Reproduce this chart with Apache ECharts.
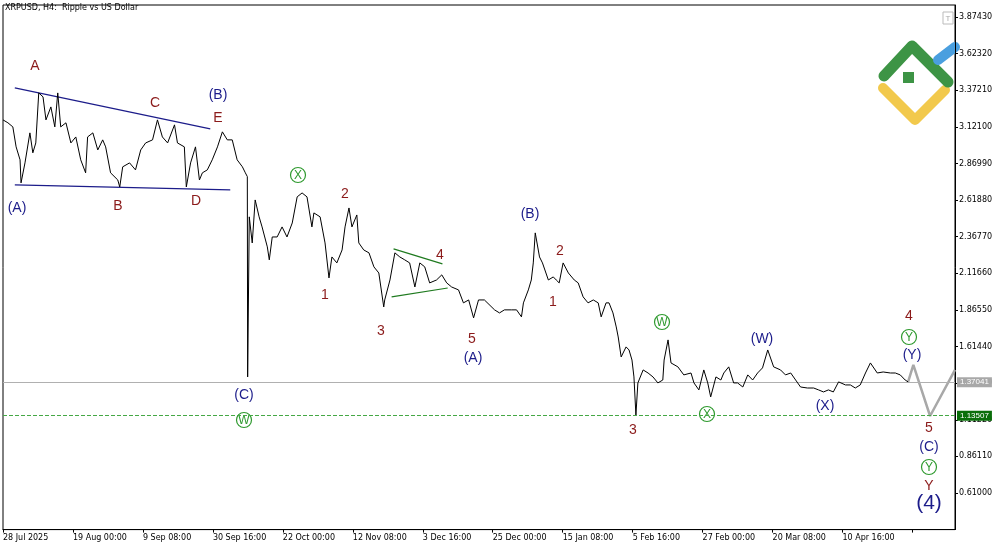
<!DOCTYPE html>
<html><head><meta charset="utf-8">
<script src="https://cdn.jsdelivr.net/npm/echarts@6/dist/echarts.min.js"></script>
<style>html,body{margin:0;padding:0;background:#fff}#c{width:1000px;height:545px}</style>
</head><body><div id="c"></div>
<script>
// days since 28 Jul 2025
const days = [0,1.5,3.0,4.0,5.2,5.5,6.7,8.2,9.1,10.0,10.9,12.2,13.1,14.6,15.8,16.7,17.6,19.2,20.7,22.2,23.7,25.2,25.8,27.4,28.9,30.4,31.3,32.8,35.0,35.6,36.5,38.6,40.4,42.0,43.5,45.6,47.1,48.6,50.2,52.3,53.2,55.3,55.9,57.2,58.7,59.9,60.8,62.3,63.8,65.4,66.9,68.4,69.9,71.4,73.0,73.9,74.5,74.6,75.1,76.0,76.9,78.1,79.0,80.6,81.2,82.1,83.6,85.1,86.6,88.2,89.7,91.2,92.7,94.2,94.8,96.7,98.2,99.4,100.3,101.8,103.4,104.3,105.5,106.4,107.9,108.5,110.0,111.6,113.1,114.6,116.1,116.4,118.0,119.5,121.0,122.5,124.0,125.6,127.1,128.6,130.1,132.2,133.8,135.3,136.8,138.9,140.4,142.0,143.5,145.0,146.8,149.9,151.4,152.9,155.0,156.6,158.1,158.7,160.2,161.1,161.7,162.3,163.6,164.5,166.3,167.8,168.7,169.6,170.8,172.4,174.2,175.4,176.9,178.4,180.0,181.5,182.4,183.9,184.8,186.0,187.0,187.6,188.5,190.0,190.9,191.8,192.4,193.0,193.6,195.2,196.7,198.2,199.7,201.2,201.6,202.8,203.7,205.8,207.6,209.8,210.7,212.2,213.7,214.9,215.8,217.4,218.9,219.8,221.3,222.8,224.0,225.6,227.1,228.6,230.1,231.6,233.2,235.0,237.1,238.6,240.2,241.7,243.2,245.3,247.2,248.7,250.2,251.7,253.2,254.8,256.9,258.4,259.9,261.4,263.0,264.5,266.6,268.4,270.6,272.1,273.6,275.1,276.0];
const prices = [3.169,3.149,3.121,2.984,2.895,2.737,2.874,3.080,2.943,3.011,3.354,3.327,3.169,3.258,3.121,3.354,3.121,3.149,3.011,3.052,2.895,2.806,3.052,3.080,2.963,3.032,2.984,2.806,2.757,2.709,2.847,2.874,2.826,2.963,3.011,3.032,3.169,3.052,3.011,3.135,3.011,2.984,2.709,2.874,2.984,2.757,2.806,2.826,2.895,2.984,3.087,3.032,3.032,2.895,2.847,2.806,2.780,1.406,2.504,2.325,2.620,2.504,2.435,2.298,2.209,2.366,2.366,2.435,2.366,2.462,2.641,2.668,2.641,2.435,2.531,2.504,2.325,2.085,2.229,2.188,2.277,2.435,2.565,2.435,2.517,2.325,2.277,2.257,2.161,2.119,1.886,1.934,2.071,2.257,2.229,2.209,2.188,2.023,2.188,2.161,2.051,2.071,2.106,2.051,2.023,2.003,1.914,1.934,1.811,1.934,1.934,1.866,1.845,1.866,1.866,1.866,1.818,1.914,2.003,2.071,2.188,2.394,2.229,2.188,2.071,2.092,2.071,2.051,2.188,2.119,2.071,2.051,1.955,1.914,1.934,1.914,1.818,1.914,1.914,1.845,1.749,1.680,1.543,1.612,1.591,1.522,1.406,1.145,1.365,1.454,1.433,1.406,1.365,1.385,1.522,1.660,1.502,1.475,1.420,1.433,1.365,1.317,1.454,1.365,1.269,1.406,1.385,1.433,1.475,1.365,1.365,1.337,1.420,1.385,1.433,1.468,1.591,1.475,1.454,1.420,1.433,1.385,1.337,1.330,1.330,1.317,1.303,1.317,1.303,1.372,1.351,1.351,1.330,1.351,1.433,1.502,1.433,1.440,1.433,1.433,1.420,1.385,1.372,1.372];
const projDays = [276.0,277.6,282.7,290.3];
const projPrices = [1.372,1.488,1.138,1.454];
const tickLabels = ['28 Jul 2025','19 Aug 00:00','9 Sep 08:00','30 Sep 16:00','22 Oct 00:00','12 Nov 08:00','3 Dec 16:00','25 Dec 00:00','15 Jan 08:00','5 Feb 16:00','27 Feb 00:00','20 Mar 08:00','10 Apr 16:00'];
const currentPrice = 1.37041, targetPrice = 1.13507;
const upperLine = [[3.6,3.389],[63.2,3.107]];
const lowerLine = [[3.6,2.723],[69.3,2.689]];
const triUpper = [[119.1,2.284],[134.0,2.181]];
const triLower = [[118.5,1.955],[135.6,2.016]];

const RED='#8b1a1a', NAVY='#1c1c8a', GRN='#2f9a2f';
const labels = [
 ['A',35,66,RED],['C',155,103,RED],['(B)',218,95,NAVY],['E',218,118,RED],['(A)',17,208,NAVY],['B',118,206,RED],['D',196,201,RED],
 ['2',345,194,RED],['1',325,295,RED],['3',381,331,RED],['4',440,255,RED],['5',472,339,RED],['(A)',473,358,NAVY],
 ['(B)',530,214,NAVY],['2',560,251,RED],['1',553,302,RED],['(C)',244,395,NAVY],['3',633,430,RED],
 ['(W)',762,339,NAVY],['(X)',825,406,NAVY],['4',909,316,RED],['(Y)',912,355,NAVY],['5',929,428,RED],['(C)',929,447,NAVY],['Y',929,486,RED]
];
const circles = [['X',298,175],['W',244,420],['W',662,322],['X',707,414],['Y',909,337],['Y',929,467]];
const g = [];
labels.forEach(l=>g.push({type:'text',x:l[1],y:l[2],style:{text:l[0],fill:l[3],font:'14px "Liberation Sans", Arial',textAlign:'center',textVerticalAlign:'middle'}}));
circles.forEach(c=>{g.push({type:'circle',shape:{cx:c[1],cy:c[2],r:7.5},style:{fill:'#fff',stroke:GRN,lineWidth:1.2}});
 g.push({type:'text',x:c[1],y:c[2]+0.5,style:{text:c[0],fill:GRN,font:'12px "Liberation Sans", Arial',textAlign:'center',textVerticalAlign:'middle'}});});
g.push({type:'text',x:929,y:503,style:{text:'(4)',fill:NAVY,font:'21px "Liberation Sans", Arial',textAlign:'center',textVerticalAlign:'middle'}});
g.push({type:'text',x:5,y:8,style:{text:'XRPUSD, H4:  Ripple vs US Dollar',fill:'#000',font:'8px "DejaVu Sans", Arial',textVerticalAlign:'middle'}});
g.push({type:'rect',shape:{x:943,y:12,width:10,height:12},style:{fill:'#fff',stroke:'#bbb'}});
g.push({type:'text',x:948,y:18.5,style:{text:'T',fill:'#aaa',font:'8px Arial',textAlign:'center',textVerticalAlign:'middle'}});
// logo
g.push({type:'polyline',shape:{points:[[883,88],[915,120],[945,90]]},style:{stroke:'#f2c94c',lineWidth:10,lineCap:'round',lineJoin:'round',fill:null}});
g.push({type:'polyline',shape:{points:[[884,76],[912,46],[948,82]]},style:{stroke:'#3d9445',lineWidth:11,lineCap:'round',lineJoin:'round',fill:null}});
g.push({type:'rect',shape:{x:903,y:72,width:11,height:11},style:{fill:'#3d9445'}});
g.push({type:'line',shape:{x1:938,y1:60,x2:955,y2:47},style:{stroke:'#4a9fdf',lineWidth:10,lineCap:'round'}});

const trend = (d,c)=>({type:'line',data:d,symbol:'none',lineStyle:{color:c,width:1.2},z:3,silent:true});
const chart = echarts.init(document.getElementById('c'));
chart.setOption({
 animation:false,
 grid:{left:0,right:45,top:5,bottom:15.4,show:true,borderColor:'#000',borderWidth:1},
 xAxis:{type:'value',min:0,max:290.3,interval:21.333,splitLine:{show:false},
  axisLine:{lineStyle:{color:'#000'}},axisTick:{length:3,lineStyle:{color:'#000'}},
  axisLabel:{fontSize:8,color:'#000',align:'left',margin:4,fontFamily:'DejaVu Sans',showMaxLabel:false,
   formatter:(v)=>{const i=Math.round(v/21.333);return tickLabels[i]||'';}}},
 yAxis:{type:'value',position:'right',min:0.3589,max:3.957,interval:0.2511,splitLine:{show:false},
  axisLine:{show:true,onZero:false,lineStyle:{color:'#000'}},axisTick:{show:true,length:3,lineStyle:{color:'#000'}},
  axisLabel:{fontSize:8,color:'#000',margin:4,fontFamily:'DejaVu Sans',showMinLabel:false,showMaxLabel:false,formatter:v=>v.toFixed(5)}},
 graphic:g,
 series:[
  {type:'line',data:days.map((d,i)=>[d,prices[i]]),symbol:'none',lineStyle:{color:'#000',width:1},z:5,
   markLine:{symbol:'none',silent:true,data:[
    {yAxis:currentPrice,lineStyle:{color:'#b0b0b0',type:'solid',width:1},label:{show:true,position:'end',distance:2,formatter:'1.37041',backgroundColor:'#a8a8a8',color:'#fff',fontSize:8,padding:[1,3]}},
    {yAxis:targetPrice,lineStyle:{color:'#45a845',type:'dashed',width:1},label:{show:true,position:'end',distance:2,formatter:'1.13507',backgroundColor:'#0a6e0a',color:'#fff',fontSize:8,padding:[1,3]}}
   ]}},
  {type:'line',data:projDays.map((d,i)=>[d,projPrices[i]]),symbol:'none',lineStyle:{color:'#a8a8a8',width:2.5},z:4},
  trend(upperLine,'#1c1c8a'),trend(lowerLine,'#1c1c8a'),trend(triUpper,'#1f7a1f'),trend(triLower,'#1f7a1f')
 ]
});
</script></body></html>
